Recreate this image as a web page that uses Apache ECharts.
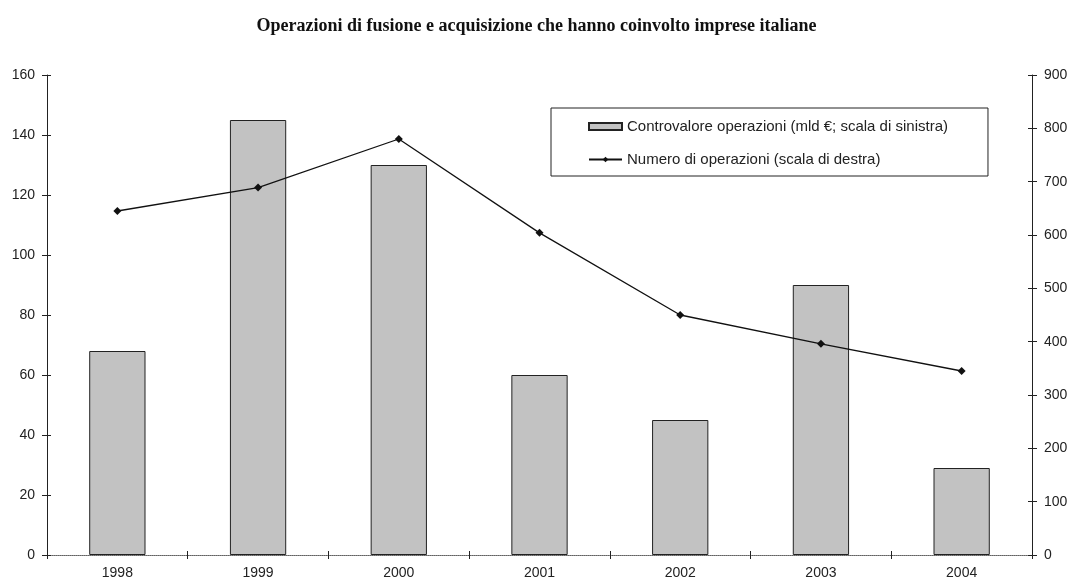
<!DOCTYPE html>
<html>
<head>
<meta charset="utf-8">
<script src="https://cdn.jsdelivr.net/npm/echarts@6/dist/echarts.min.js"></script>
<style>
html,body{margin:0;padding:0;background:#fff;}
#c{width:1073px;height:581px;}
</style>
</head>
<body>
<div id="c"></div>
<script>
var categories = ['1998', '1999', '2000', '2001', '2002', '2003', '2004'];
var controvalore = [68, 145, 130, 60, 45, 90, 29];
var numero = [645, 689, 780, 604, 450, 396, 345];
var leftTicks = {min: 0, max: 160, interval: 20};
var rightTicks = {min: 0, max: 900, interval: 100};
var titleText = 'Operazioni di fusione e acquisizione che hanno coinvolto imprese italiane';
var barName = 'Controvalore operazioni (mld €; scala di sinistra)';
var lineName = 'Numero di operazioni (scala di destra)';

var chart = echarts.init(document.getElementById('c'), null, {renderer: 'canvas'});
var lab = {fontFamily: 'Liberation Sans', fontSize: 14, color: '#222'};
var axLine = {show: true, lineStyle: {color: '#222', width: 1}};
chart.setOption({
  animation: false,
  backgroundColor: '#fff',
  title: {
    text: titleText, left: 'center', top: 12,
    textStyle: {fontFamily: 'Liberation Serif', fontSize: 18, fontWeight: 'bold', color: '#111'}
  },
  legend: {
    orient: 'vertical', left: 551, top: 108,
    padding: [11, 40, 9, 37],
    itemGap: 18, itemWidth: 33, itemHeight: 7,
    borderColor: '#222', borderWidth: 1, backgroundColor: '#fff',
    textStyle: {fontFamily: 'Liberation Sans', fontSize: 15, color: '#222'},
    data: [{name: barName, icon: 'rect'}, {name: lineName}]
  },
  grid: {left: 47, right: 41, top: 75, bottom: 26},
  xAxis: [{
    type: 'category', data: categories, position: 'bottom',
    axisLine: axLine,
    axisTick: {show: true, length: 4, lineStyle: {color: '#222'}},
    axisLabel: Object.assign({margin: 11}, lab)
  }, {
    type: 'category', data: categories, position: 'bottom',
    axisLine: {show: false},
    axisTick: {show: true, inside: true, length: 4, lineStyle: {color: '#222'}},
    axisLabel: {show: false}
  }, {
    type: 'category', data: categories, position: 'top',
    axisLine: {show: true, lineStyle: {color: '#888', type: 'dotted', width: 1}},
    axisTick: {show: false}, axisLabel: {show: false}
  }],
  yAxis: [{
    type: 'value', position: 'left', min: leftTicks.min, max: leftTicks.max, interval: leftTicks.interval,
    axisLine: axLine, splitLine: {show: false},
    axisTick: {show: true, length: 5, lineStyle: {color: '#222'}},
    axisLabel: Object.assign({margin: 12}, lab)
  }, {
    type: 'value', position: 'right', min: rightTicks.min, max: rightTicks.max, interval: rightTicks.interval,
    axisLine: axLine, splitLine: {show: false},
    axisTick: {show: true, length: 5, lineStyle: {color: '#222'}},
    axisLabel: Object.assign({margin: 12}, lab)
  }, {
    type: 'value', position: 'left', min: leftTicks.min, max: leftTicks.max, interval: leftTicks.interval,
    axisLine: {show: false}, splitLine: {show: false},
    axisTick: {show: true, inside: true, length: 4, lineStyle: {color: '#222'}},
    axisLabel: {show: false}
  }, {
    type: 'value', position: 'right', min: rightTicks.min, max: rightTicks.max, interval: rightTicks.interval,
    axisLine: {show: false}, splitLine: {show: false},
    axisTick: {show: true, inside: true, length: 4, lineStyle: {color: '#222'}},
    axisLabel: {show: false}
  }],
  series: [{
    name: barName, type: 'bar', data: controvalore, xAxisIndex: 0, yAxisIndex: 0,
    barWidth: '40%',
    itemStyle: {color: '#c2c2c2', borderColor: '#222', borderWidth: 1}
  }, {
    name: lineName, type: 'line', data: numero, xAxisIndex: 0, yAxisIndex: 1,
    symbol: 'diamond', symbolSize: 8,
    lineStyle: {color: '#111', width: 1.3},
    itemStyle: {color: '#111'}
  }]
});
</script>
</body>
</html>
